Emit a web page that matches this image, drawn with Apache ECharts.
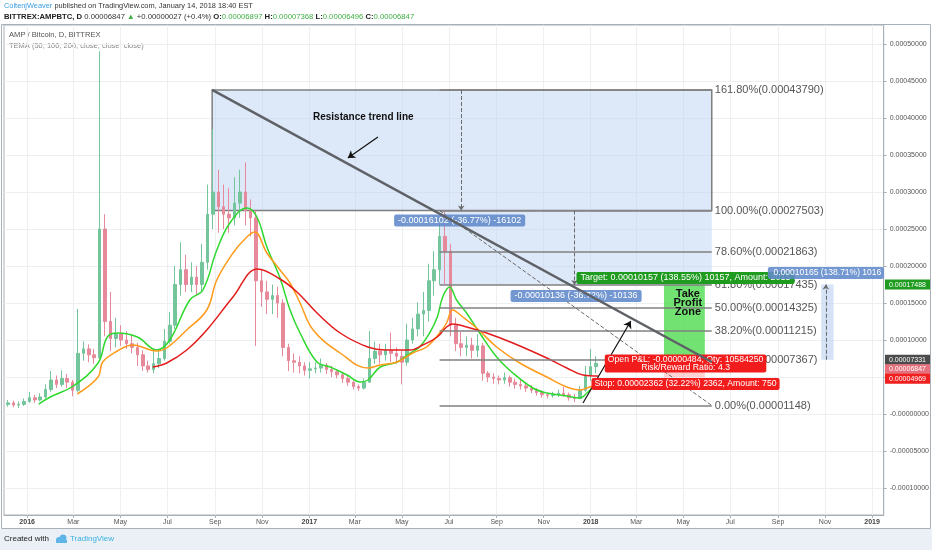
<!DOCTYPE html>
<html><head><meta charset="utf-8">
<script src="https://cdn.jsdelivr.net/npm/echarts@6.0.0/dist/echarts.min.js"></script>
<style>html,body{margin:0;padding:0;background:#fff;}#chart{width:932px;height:550px;}</style>
</head><body><div id="chart"></div>
<script>
// ================= DATA (prices in satoshi = 1e-8 BTC) =================
const weekStart = '2015-12-07';
const candleOpen = [1300,1500,1200,1300,1700,2200,1900,2300,3300,4600,
 4000,4800,4300,3200,8200,8800,8000,7600,25000,12500,
 10200,10800,10000,9500,9000,8000,6500,6000,6800,7500,
 9800,12000,17500,19500,17500,18500,17500,20500,27000,30000,
 28000,27000,26500,28500,30000,27500,26500,18000,16500,15500,
 16000,15000,9000,7200,7000,6500,5900,6100,6200,6600,
 6000,5700,5300,4800,4300,3700,3500,4300,7500,8500,
 8000,8600,8200,7800,7000,10000,11500,13500,14000,18000,
 19500,24000,22000,12000,9500,9000,9300,8600,9200,5500,
 5000,4800,4600,4900,4300,4000,3800,3500,3200,2900,
 2600,2500,2600,2800,2600,2200,2100,3200,5200,6400];
const candleClose = [1500,1200,1300,1700,2200,1900,2300,3300,4600,4000,
 4800,4300,3200,8200,8800,8000,7600,25000,12500,10200,
 10800,10000,9500,9000,8000,6500,6000,6800,7500,9800,
 12000,17500,19500,17500,18500,17500,20500,27000,30000,28000,
 27000,26500,28500,30000,27500,26500,18000,16500,15500,16000,
 15000,9000,7200,7000,6500,5900,6100,6200,6600,6000,
 5700,5300,4800,4300,3700,3500,4300,7500,8500,8000,
 8600,8200,7800,7000,10000,11500,13500,14000,18000,19500,
 24000,22000,12000,9500,9000,9300,8600,9200,5500,5000,
 4800,4600,4900,4300,4000,3800,3500,3200,2900,2600,
 2500,2600,2800,2600,2200,2100,3200,5200,6400,6847];
const candleLow = [1000,900,800,1100,1500,1500,1700,2100,3000,3500,
 3700,3500,2400,3000,7200,7000,6800,7400,10500,8500,
 9000,9200,8800,8200,6500,5800,5600,5500,6200,7200,
 9500,11500,16000,16500,16500,16000,16500,19500,25000,24500,
 25000,24500,25500,26500,25500,24000,9200,14500,13500,13500,
 13000,7800,5800,5600,5500,5200,4800,5500,5600,5400,
 5000,4800,4200,3800,3300,3100,3300,4200,6800,6800,
 7200,7000,6800,4000,6500,9500,10500,10500,12500,16000,
 17500,17500,10500,8500,7800,7800,7500,7700,4500,4300,
 4100,4000,4100,3700,3400,3300,3000,2800,2500,2200,
 2100,2200,2300,2300,1800,1600,2000,3000,4500,5500];
const candleHigh = [1900,1800,1700,2100,3000,2600,2800,4000,5800,5200,
 5900,5400,4600,14200,9800,9400,8800,49000,27000,16500,
 13000,12000,11200,10800,9600,8600,7200,8500,8800,11500,
 13800,20000,23200,21500,20500,20000,23000,31000,38500,33000,
 31000,30500,32000,33000,34000,29000,27500,19500,18000,17500,
 17200,15500,9500,8200,7800,7000,7000,7000,7500,6900,
 6500,6000,5600,5100,4500,4000,4800,11200,9800,9500,
 9500,11000,9000,8500,12200,13000,15100,16500,20300,22000,
 26000,27500,23000,13000,11100,10500,10300,10800,9600,5800,
 5500,5200,5600,5200,4800,4600,4300,3900,3500,3200,
 2900,3000,3300,3700,2900,2700,3800,6500,8800,7800];

const tema50 = [['2016-01-16',1351],['2016-01-31',2297],['2016-03-01',3784],['2016-04-02',6892],['2016-04-14',10405],['2016-04-27',10946],['2016-05-23',10405],['2016-06-17',8649],['2016-07-04',10000],['2016-07-30',15405],['2016-08-16',16757],['2016-09-03',22162],['2016-09-20',25811],['2016-10-12',27838],['2016-10-25',26622],['2016-11-07',22568],['2016-11-24',18378],['2016-12-07',14054],['2016-12-20',10946],['2017-01-11',7027],['2017-01-28',6351],['2017-02-19',5270],['2017-03-08',4324],['2017-03-18',4595],['2017-04-03',6351],['2017-04-25',7027],['2017-05-12',8243],['2017-05-24',9054],['2017-06-06',10946],['2017-06-16',13108],['2017-06-23',15811],['2017-07-02',17162],['2017-07-11',15405],['2017-07-24',13649],['2017-08-10',10946],['2017-09-01',7703],['2017-09-22',5541],['2017-10-18',3514],['2017-11-05',2838],['2017-12-01',2432],['2017-12-18',2162],['2017-12-27',2838],['2018-01-03',3514],['2018-01-12',4189]];
const tema100 = [['2016-03-06',2703],['2016-04-02',5000],['2016-04-08',7027],['2016-04-27',8514],['2016-05-17',9324],['2016-06-17',8514],['2016-06-30',8919],['2016-07-26',11351],['2016-08-21',14054],['2016-09-03',18108],['2016-09-24',21757],['2016-10-12',23919],['2016-10-22',24595],['2016-11-07',21757],['2016-11-24',19459],['2016-12-07',17703],['2016-12-20',15000],['2017-01-06',11351],['2017-02-10',8243],['2017-03-18',6216],['2017-04-03',6622],['2017-04-25',7027],['2017-05-15',8243],['2017-06-02',9054],['2017-06-19',10946],['2017-06-28',12297],['2017-07-06',14054],['2017-07-19',13108],['2017-08-06',11622],['2017-09-01',9054],['2017-10-01',6892],['2017-11-05',5000],['2017-12-01',3649],['2017-12-18',3243],['2017-12-27',3514],['2018-01-11',4054]];
const tema200 = [['2016-06-12',6351],['2016-06-30',6892],['2016-07-26',8649],['2016-08-21',11351],['2016-09-24',15811],['2016-10-26',19595],['2016-11-24',18243],['2016-12-16',16486],['2017-01-11',13649],['2017-02-10',10946],['2017-03-18',9054],['2017-04-12',8649],['2017-05-12',8649],['2017-05-28',9324],['2017-06-16',10405],['2017-06-28',11757],['2017-07-06',12162],['2017-07-24',11757],['2017-08-19',10946],['2017-09-22',9595],['2017-11-05',7568],['2017-12-01',6216],['2017-12-22',5270],['2018-01-11',5135]];

const xTickDates = ['2016-01-01','2016-03-01','2016-05-01','2016-07-01','2016-09-01','2016-11-01','2017-01-01','2017-03-01','2017-05-01','2017-07-01','2017-09-01','2017-11-01','2018-01-01','2018-03-01','2018-05-01','2018-07-01','2018-09-01','2018-11-01','2019-01-01'];
const xTickLabels = ['2016','Mar','May','Jul','Sep','Nov','2017','Mar','May','Jul','Sep','Nov','2018','Mar','May','Jul','Sep','Nov','2019'];
const yTickValues = [-10000,-5000,0,5000,10000,15000,20000,25000,30000,35000,40000,45000,50000];

const fibLevels = ['161.80%','100.00%','78.60%','61.80%','50.00%','38.20%','23.60%','0.00%'];
const fibPrices = [43790,27503,21863,17435,14325,11215,7367,1148];

const lastPrice = 6847;
const entryPrice = 7331, targetPrice = 17488, stopPrice = 4969;

// ================= ANNOTATION ANCHORS (date, price) =================
const view = {xMin:'2015-12-02', xMax:'2019-01-16', yMin:-13649, yMax:52568};
const fibRange = ['2017-06-19','2018-06-07'];
const boxRange = ['2016-08-28','2018-06-07'];
const trendLine = [['2016-08-28',43790],['2018-06-07',7027]];
const fibDiagonal = [['2017-06-19',27503],['2018-06-07',1148]];
const measureA = [['2017-07-17',43790],['2017-07-17',27503]];
const measureB = [['2017-12-11',27503],['2017-12-11',17435]];
const measureC = [['2018-11-02',entryPrice],['2018-11-02',targetPrice]];
const measureCBox = ['2018-10-27','2018-11-12'];
const positionRange = ['2018-04-06','2018-05-29'];
const arrowResist = [['2017-03-31',37432],['2017-02-20',34595]];
const arrowUp = [['2017-12-22',1486],['2018-02-22',12568]];

// ================= HELPERS =================
const DAY = 86400000;
function ts(s){const p=s.split('-').map(Number);return Date.UTC(p[0],p[1]-1,p[2]);}
function fmtPrice(v){ if (Math.abs(v) < 1e-6) return '-0.00000000'; return (v/1e8).toFixed(8); }
const F = "'Liberation Sans', Arial, sans-serif";
const t0 = ts(weekStart);
const candles = candleOpen.map((o,i)=>[t0 + i*7*DAY, o, candleClose[i], candleLow[i], candleHigh[i]]);
const pts = arr => arr.map(d=>[ts(d[0]), d[1]]);
const tickVals = xTickDates.map(ts);
const tickMap = {}; tickVals.forEach((v,i)=>tickMap[v]=xTickLabels[i]);

const chart = echarts.init(document.getElementById('chart'));

const blue = 'rgba(96,137,201,0.88)', green='#1f9c1f', red='#f21c1c';
const boxLabel = (bg, extra) => Object.assign({show:true, position:'inside', formatter:'{b}', color:'#fff', fontSize:9, fontFamily:F, backgroundColor:bg, padding:[2,4,1,4], borderRadius:2, align:'center', verticalAlign:'middle'}, extra||{});

const option = {
  animation:false,
  backgroundColor:'#ffffff',
  grid:{left:4, right:48, top:25, bottom:35, show:true, borderColor:'#a8b0b8', borderWidth:1, backgroundColor:'#fff'},
  xAxis:{type:'value', min:ts(view.xMin), max:ts(view.xMax), scale:true,
    axisLine:{show:true, onZero:false, lineStyle:{color:'#a8b0b8'}},
    axisTick:{show:true, customValues:tickVals, length:3, lineStyle:{color:'#a8b0b8'}},
    axisLabel:{customValues:tickVals, fontSize:7, color:'#555', fontFamily:F, margin:4,
      formatter:(v)=>{const s=tickMap[v]||''; return /^\d{4}$/.test(s)?'{y|'+s+'}':s;},
      rich:{y:{fontWeight:'bold', fontSize:7, color:'#444', fontFamily:F}}},
    splitLine:{show:true, lineStyle:{color:'#edf0f3', width:1}}
  },
  yAxis:{type:'value', position:'right', min:view.yMin, max:view.yMax, splitNumber:13,
    axisLine:{show:true, onZero:false, lineStyle:{color:'#a8b0b8'}},
    axisTick:{show:true, length:3, customValues:yTickValues, lineStyle:{color:'#a8b0b8'}},
    axisLabel:{customValues:yTickValues, formatter:fmtPrice, fontSize:7, color:'#555', fontFamily:F, margin:6},
    splitLine:{show:true, lineStyle:{color:'#edf0f3', width:1}}
  },
  series:[
    {type:'candlestick', name:'AMPBTC', data:candles, encode:{x:0,y:[1,2,3,4]}, barWidth:3, z:2,
      itemStyle:{color:'#74c49c', color0:'#e6899a', borderColor:'#74c49c', borderColor0:'#e6899a', borderWidth:1}},
    {type:'line', name:'TEMA 50', data:pts(tema50), smooth:0.4, showSymbol:false, z:3, lineStyle:{color:'#2ed82e', width:1.5}},
    {type:'line', name:'TEMA 100', data:pts(tema100), smooth:0.4, showSymbol:false, z:3, lineStyle:{color:'#ff9a1a', width:1.5}},
    {type:'line', name:'TEMA 200', data:pts(tema200), smooth:0.4, showSymbol:false, z:3, lineStyle:{color:'#e31b1b', width:1.5}},
    {type:'line', name:'areas', data:[], z:4, silent:true,
      markArea:{silent:true, data:[
        [{coord:[ts(boxRange[0]), fibPrices[0]], itemStyle:{color:'rgba(187,209,241,0.5)', borderColor:'#7f7f7f', borderWidth:1.5}}, {coord:[ts(boxRange[1]), fibPrices[1]]}],
        [{coord:[ts(fibRange[0]), fibPrices[1]], itemStyle:{color:'rgba(187,209,241,0.5)'}}, {coord:[ts(fibRange[1]), fibPrices[3]]}],
        [{coord:[ts(positionRange[0]), targetPrice], itemStyle:{color:'rgba(60,215,60,0.72)'}}, {coord:[ts(positionRange[1]), entryPrice]}],
        [{coord:[ts(positionRange[0]), entryPrice], itemStyle:{color:'rgba(255,110,110,0.3)'}}, {coord:[ts(positionRange[1]), stopPrice]}],
        [{coord:[ts(measureCBox[0]), targetPrice], itemStyle:{color:'rgba(187,209,241,0.6)'}}, {coord:[ts(measureCBox[1]), entryPrice]}]
      ]}},
    {type:'line', name:'fib', data:[], z:5, silent:true,
      markLine:{silent:true, symbol:['none','none'],
        lineStyle:{color:'#808080', width:1.5, type:'solid'},
        label:{show:true, position:'end', formatter:'{b}', color:'#555', fontSize:11, fontFamily:F, distance:3},
        data: fibPrices.map((p,i)=>[{name:fibLevels[i]+'('+fmtPrice(p)+')', coord:[ts(fibRange[0]), p]}, {coord:[ts(fibRange[1]), p]}])
      }},
    {type:'line', name:'dashed', data:[], z:5, silent:true,
      markLine:{silent:true, symbol:['none','none'], label:{show:false},
        lineStyle:{color:'#6a6a6a', width:1, type:'dashed'},
        data:[
          [{coord:[ts(fibDiagonal[0][0]), fibDiagonal[0][1]]}, {coord:[ts(fibDiagonal[1][0]), fibDiagonal[1][1]]}],
          [{coord:[ts(measureA[0][0]), measureA[0][1]], symbol:'none'}, {coord:[ts(measureA[1][0]), measureA[1][1]], symbol:'arrow', symbolSize:5}],
          [{coord:[ts(measureB[0][0]), measureB[0][1]], symbol:'none'}, {coord:[ts(measureB[1][0]), measureB[1][1]], symbol:'arrow', symbolSize:5}],
          [{coord:[ts(measureC[0][0]), measureC[0][1]], symbol:'none'}, {coord:[ts(measureC[1][0]), measureC[1][1]], symbol:'arrow', symbolSize:5}],
          [{yAxis:lastPrice, lineStyle:{color:'#e46a78', type:'dotted', width:1}}, {yAxis:lastPrice}]
        ]
      }},
    {type:'line', name:'Resistance trend line', data:pts(trendLine), z:6, showSymbol:false, silent:true, lineStyle:{color:'#5e6166', width:2.5}},
    {type:'line', name:'arrows', data:[], z:6, silent:true,
      markLine:{silent:true, symbol:['none','arrow'], symbolSize:7, label:{show:false},
        lineStyle:{color:'#111', width:1.2, type:'solid'},
        data:[
          [{coord:[ts(arrowResist[0][0]), arrowResist[0][1]]}, {coord:[ts(arrowResist[1][0]), arrowResist[1][1]]}],
          [{coord:[ts(arrowUp[0][0]), arrowUp[0][1]]}, {coord:[ts(arrowUp[1][0]), arrowUp[1][1]]}]
        ]}},
    {type:'line', name:'labels1', data:[], z:7, silent:true,
      markPoint:{silent:true, symbol:'rect', symbolSize:1, itemStyle:{color:'rgba(0,0,0,0)'},
        data:[
          {name:'Resistance trend line', coord:[ts('2017-03-12'),40135], label:{show:true, position:'inside', formatter:'{b}', color:'#111', fontSize:10, fontWeight:'bold', fontFamily:F}},
          {name:'Take\nProfit\nZone', coord:[ts('2018-05-07'),15000], label:{show:true, position:'inside', formatter:'{b}', color:'#111', fontSize:11, fontWeight:'bold', lineHeight:9, align:'center', fontFamily:F}},
          {name:'-0.00016102 (-36.77%) -16102', coord:[ts('2017-07-15'),26149], label:boxLabel(blue)},
          {name:'-0.00010136 (-36.72%) -10136', coord:[ts('2017-12-13'),15946], label:boxLabel(blue)},
          {name:'Target: 0.00010157 (138.55%) 10157, Amount: 2015', coord:[ts('2018-05-04'),18378], label:boxLabel(green)},
          {name:'Open P&L: -0.00000484, Qty: 10584250\nRisk/Reward Ratio: 4.3', coord:[ts('2018-05-04'),6824], label:boxLabel(red,{fontSize:8.7, lineHeight:8.5, padding:[1,3,0,3]})},
          {name:'Stop: 0.00002362 (32.22%) 2362, Amount: 750', coord:[ts('2018-05-04'),4054], label:boxLabel(red,{fontSize:8.7, padding:[2,3,1,3]})}
        ]}},
    {type:'line', name:'labels2', data:[], z:8, silent:true,
      markPoint:{silent:true, symbol:'rect', symbolSize:1, itemStyle:{color:'rgba(0,0,0,0)'},
        data:[
          {name:'0.00010165 (138.71%) 10165', coord:[ts('2018-11-02'),19054], label:boxLabel(blue,{fontSize:8.5, width:113, overflow:'truncate', ellipsis:'', padding:[2,0,1,3], align:'center'})}
        ]}}
  ],
  graphic:[
    {type:'rect', shape:{x:0,y:529,width:932,height:21}, style:{fill:'#eaf0f6'}, silent:true, z:-10},
    {type:'rect', shape:{x:1.5,y:24.5,width:929,height:504}, style:{fill:'none', stroke:'#a8b0b8', lineWidth:1}, silent:true},
    {type:'text', left:4, top:2, silent:true, style:{text:'{u|ColtenjWeaver}{t| published on TradingView.com, January 14, 2018 18:40 EST}',
      rich:{u:{fill:'#3a9de0', fontSize:7.4, fontFamily:F}, t:{fill:'#333', fontSize:7.4, fontFamily:F}}}},
    {type:'text', left:4, top:13, silent:true, style:{text:'{b|BITTREX:AMPBTC, D}{t| 0.00006847 }{g|▲}{t| +0.00000027 (+0.4%) }{b|O:}{g|0.00006897}{b| H:}{g|0.00007368}{b| L:}{g|0.00006496}{b| C:}{g|0.00006847}',
      rich:{b:{fill:'#222', fontSize:7.7, fontWeight:'bold', fontFamily:F}, t:{fill:'#333', fontSize:7.7, fontFamily:F}, g:{fill:'#3fae45', fontSize:7.7, fontFamily:F}}}},
    {type:'text', left:9, top:31, silent:true, style:{text:'AMP / Bitcoin, D, BITTREX', fill:'#555', fontSize:7.6, fontFamily:F}},
    {type:'text', left:9, top:42, silent:true, style:{text:'TEMA (50, 100, 200, close, close, close)', fill:'#888', fontSize:7.5, fontFamily:F}},
    {type:'text', left:4, top:535, silent:true, style:{text:'Created with', fill:'#222', fontSize:8, fontFamily:F}},
    {type:'circle', shape:{cx:59,cy:540,r:3}, style:{fill:'#5fb6e6'}, silent:true},
    {type:'circle', shape:{cx:63,cy:538,r:3.5}, style:{fill:'#5fb6e6'}, silent:true},
    {type:'rect', shape:{x:56,y:540,width:11,height:3}, style:{fill:'#5fb6e6'}, silent:true},
    {type:'text', left:70, top:535, silent:true, style:{text:'TradingView', fill:'#3bb0e0', fontSize:8, fontFamily:F}}
  ]
};
chart.setOption(option);

const tags = [
  {price:targetPrice, bg:'#1f9c1f'},
  {price:entryPrice, bg:'#4b4b4b'},
  {price:lastPrice, bg:'#e6707c'},
  {price:stopPrice, bg:'#f21f1f'}
];
let prevY = -100;
const tagEls = [];
tags.map(tg=>({...tg, y: chart.convertToPixel({yAxisIndex:0}, tg.price)}))
  .sort((a,b)=>a.y-b.y)
  .forEach(tg=>{
    let y = tg.y; if (y < prevY + 9.5) y = prevY + 9.5; prevY = y;
    tagEls.push({type:'rect', shape:{x:885, y:y-5, width:45, height:10}, style:{fill:tg.bg}, silent:true, z:20});
    tagEls.push({type:'text', x:889, y:y, silent:true, z:21, style:{text:fmtPrice(tg.price), fill:'#fff', fontSize:7, fontFamily:F, textVerticalAlign:'middle', verticalAlign:'middle'}});
  });
chart.setOption({graphic: option.graphic.concat(tagEls)});
</script>
</body></html>
